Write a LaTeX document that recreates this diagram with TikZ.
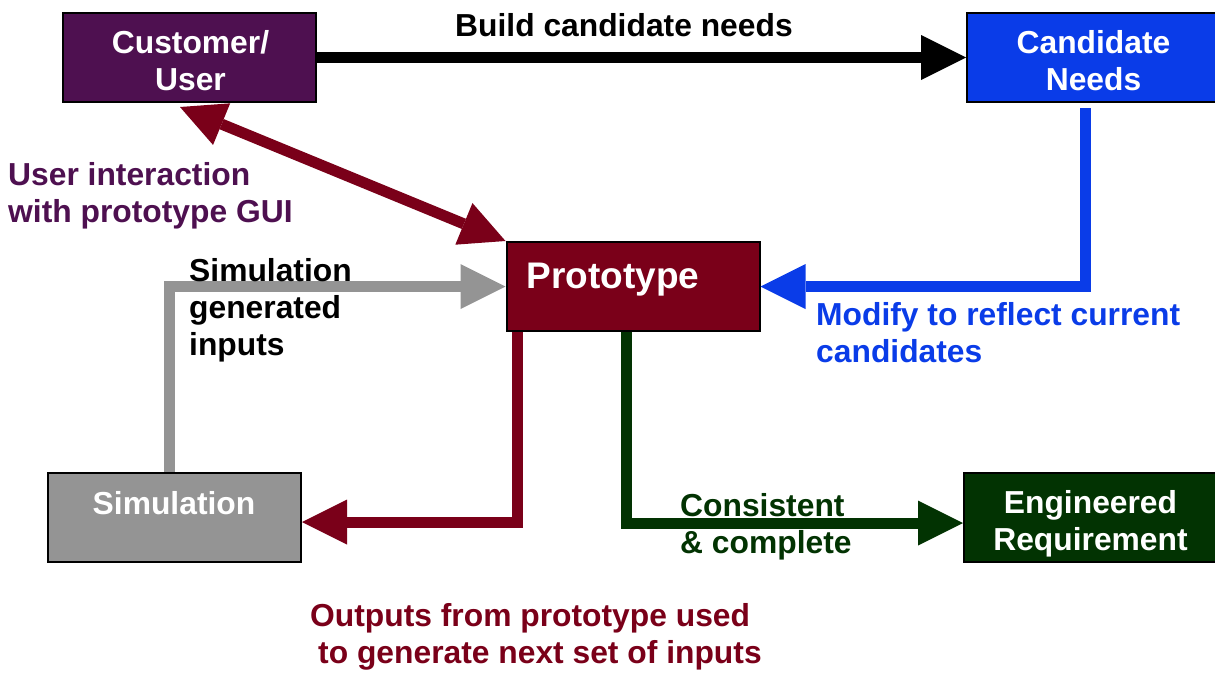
\documentclass[tikz,border=0pt]{standalone}
\usepackage{fontspec}
\setmainfont{Liberation Sans}
\usetikzlibrary{arrows.meta,calc}
\definecolor{cpurple}{HTML}{4E1050}
\definecolor{cmaroon}{HTML}{7A0019}
\definecolor{cblue}{HTML}{0A3CE8}
\definecolor{cgray}{HTML}{949494}
\definecolor{cgreen}{HTML}{023302}
\begin{document}
\begin{tikzpicture}[x=1pt,y=-1pt,
  box/.style={draw=black, line width=2pt, inner sep=0pt, minimum width=253pt, minimum height=89pt},
  boxtxt/.style={text=white, font=\fontsize{31.8}{37}\selectfont\bfseries, align=center, inner sep=0pt, anchor=base},
  lbl/.style={font=\fontsize{31.8}{36.8}\selectfont\bfseries, align=left, inner sep=0pt, anchor=base west},
  conn/.style={line width=11pt, line join=miter},
  tip/.style={-{Triangle[length=45pt,width=45pt,line width=0pt]}},
  dtip/.style={{Triangle[length=45pt,width=45pt,line width=0pt]}-{Triangle[length=45pt,width=45pt,line width=0pt]}}
]
\useasboundingbox (0,0) rectangle (1215,673);
\clip (0,0) rectangle (1215,673);
% boxes
\node[box, fill=cpurple] (cust) at (189.5,57.5) {};
\node[box, fill=cblue] (cand) at (1093.5,57.5) {};
\node[box, fill=cmaroon] (proto) at (633,286.5) {};
\node[box, fill=cgray] (sim) at (174.5,517) {};
\node[box, fill=cgreen] (eng) at (1090.5,517) {};
% connectors
\coordinate (cu) at (180,107);
\draw[conn, black, tip] (cust) -- (cand);
\draw[conn, cmaroon, dtip] (cu) -- (proto.north west);
\draw[conn, cgray, tip] ($(sim.north)+(-5.5,0)$) |- (proto.west);
\draw[conn, cblue, tip] ($(cand.south)+(-8.5,5)$) |- (proto.east);
\draw[conn, cmaroon, tip] ($(proto.south west)+(12,0)$) |- ($(sim.east)+(0,5)$);
\draw[conn, cgreen, tip] ($(proto.south west)+(121,0)$) |- ($(eng.west)+(0,6)$);
% box texts (anchor base = last line's baseline)
\node[boxtxt] (custt) at (190.5,90) {Customer/\\User};
\node[boxtxt] (candt) at (1093.5,90) {Candidate\\Needs};
\node[boxtxt, font=\fontsize{37}{42}\selectfont\bfseries] (protot) at (613,288) {Prototype};
\node[boxtxt] (simt) at (174,514) {Simulation};
\node[boxtxt] (engt) at (1090.5,550) {Engineered\\Requirement};
% labels
\node[lbl] (build) at (455,36) {Build candidate needs};
\node[lbl, text=cpurple] (uint) at (8,222) {User interaction\\with prototype GUI};
\node[lbl] (sgen) at (189,355) {Simulation\\generated\\inputs};
\node[lbl, text=cblue] (modif) at (816,362) {Modify to reflect current\\candidates};
\node[lbl, text=cgreen] (cons) at (680,553) {Consistent\\\& complete};
\node[lbl, text=cmaroon] (outp) at (310,663) {Outputs from prototype used\\\hspace*{8pt}to generate next set of inputs};
\end{tikzpicture}
\end{document}
